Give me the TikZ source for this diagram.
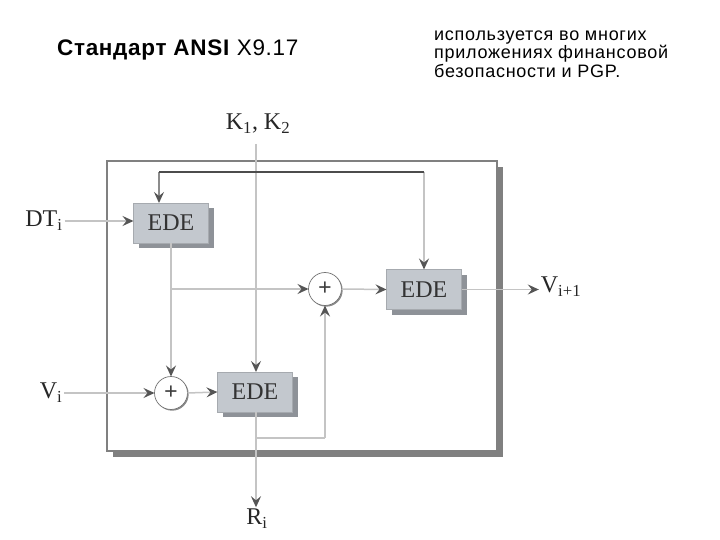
\documentclass[tikz,border=0pt]{standalone}
\usepackage{fontspec}
\setmainfont{Liberation Sans}
\newfontfamily\labfont{Liberation Serif}
\newfontfamily\ttlfont[LetterSpace=3]{Liberation Sans}
\newfontfamily\notefont[LetterSpace=4]{Liberation Sans}
\usetikzlibrary{arrows.meta,shadows,calc}
\definecolor{boxfill}{HTML}{C3C8CE}
\definecolor{boxshade}{HTML}{8E9298}
\definecolor{conn}{HTML}{C4C4C4}
\definecolor{tipc}{HTML}{555555}
\tikzset{
  edebox/.style={rectangle,fill=boxfill,draw=boxfill!85!black,line width=0.8pt,minimum width=75pt,minimum height=40pt,inner sep=0pt,outer sep=0pt,
    font=\labfont\fontsize{24}{24}\selectfont,text=black!80,
    drop shadow={shadow xshift=5pt,shadow yshift=-5pt,fill=boxshade,opacity=1}},
  xorc/.style={circle,fill=white,draw=black!55,line width=0.7pt,minimum size=33pt,inner sep=0pt,outer sep=0pt,
    font=\labfont\bfseries\fontsize{24}{24}\selectfont,text=black!75,
    drop shadow={shadow xshift=1.2pt,shadow yshift=-1.2pt,fill=black!45,opacity=1}},
  conline/.style={draw=conn,line width=1.5pt},
  arr/.style={conline,-{Stealth[inset=4pt,length=11pt,width=10pt,color=tipc]}},
  lab/.style={font=\labfont\fontsize{24}{24}\selectfont,text=black!85,inner sep=0pt,outer sep=2pt},
  thickline/.style={draw=black!70,line width=2pt},
  ttl/.style={anchor=west,inner sep=0pt,text=black},
}
\begin{document}
\begin{tikzpicture}[x=1pt,y=-1pt]
\useasboundingbox (0,0) rectangle (720,540);
% titles
\node[ttl,font=\ttlfont\fontsize{22.5}{22.5}\selectfont] (title) at (57,50) {\textbf{Стандарт ANSI} X9.17};
\node[ttl,font=\notefont\fontsize{18}{18.5}\selectfont,align=left] (note) at (434,54) {используется во многих\\приложениях финансовой\\безопасности и PGP.};
% frame
\node[rectangle,fill=white,draw=black!50,line width=1.5pt,minimum width=390pt,minimum height=290pt,inner sep=0pt,outer sep=0pt,
  drop shadow={shadow xshift=6pt,shadow yshift=-6pt,fill=black!50,opacity=1}] (frame) at (302,306) {};
% nodes
\node[edebox] (e1) at (171,223) {EDE};
\node[edebox] (e2) at (424,289.5) {EDE};
\node[edebox] (e3) at (255,392) {EDE};
\node[xorc] (x1) at (325,289) {+};
\node[xorc] (x2) at (171,393) {+};
\node[lab] (k) at (258,124) {K\textsubscript{1}, K\textsubscript{2}};
\node[lab] (dt) at (44,221) {DT\textsubscript{i}};
\node[lab] (vi) at (51,393) {V\textsubscript{i}};
\node[lab] (vn) at (561,287) {V\textsubscript{i+1}};
\node[lab] (ri) at (257,519) {R\textsubscript{i}};
\coordinate (kstart) at (256,144);
\coordinate (tl) at (159,172);
\coordinate (tr) at (424,172);
\coordinate (br) at (256,438);
\coordinate (bu) at (325,438);
\coordinate (mid) at (171,289);
% connectors
\draw[arr] (kstart) -- (kstart |- e3.north);
\draw[arr] (dt.east) -- (dt.east -| e1.west);
\draw[arr] (e1.south) -- (x2.north);
\draw[arr] (mid) -- (x1.west);
\draw[arr] (x1.east) -- (e2.west);
\draw[arr] (tr) -- (e2.north);
\draw[arr] (e2.east) -- (vn.west |- e2.east);
\draw[arr] (vi.east |- x2.west) -- (x2.west);
\draw[arr] (x2.east) -- (e3.west);
\draw[arr] (kstart |- e3.south) -- (ri.north -| kstart);
\draw[conline] (br) -- (bu);
\draw[arr] (bu) -- (x1.south);
\draw[arr,draw=black!45] (tl) -- (tl |- e1.north);
\draw[thickline] (tl) -- (tr);
\end{tikzpicture}
\end{document}
